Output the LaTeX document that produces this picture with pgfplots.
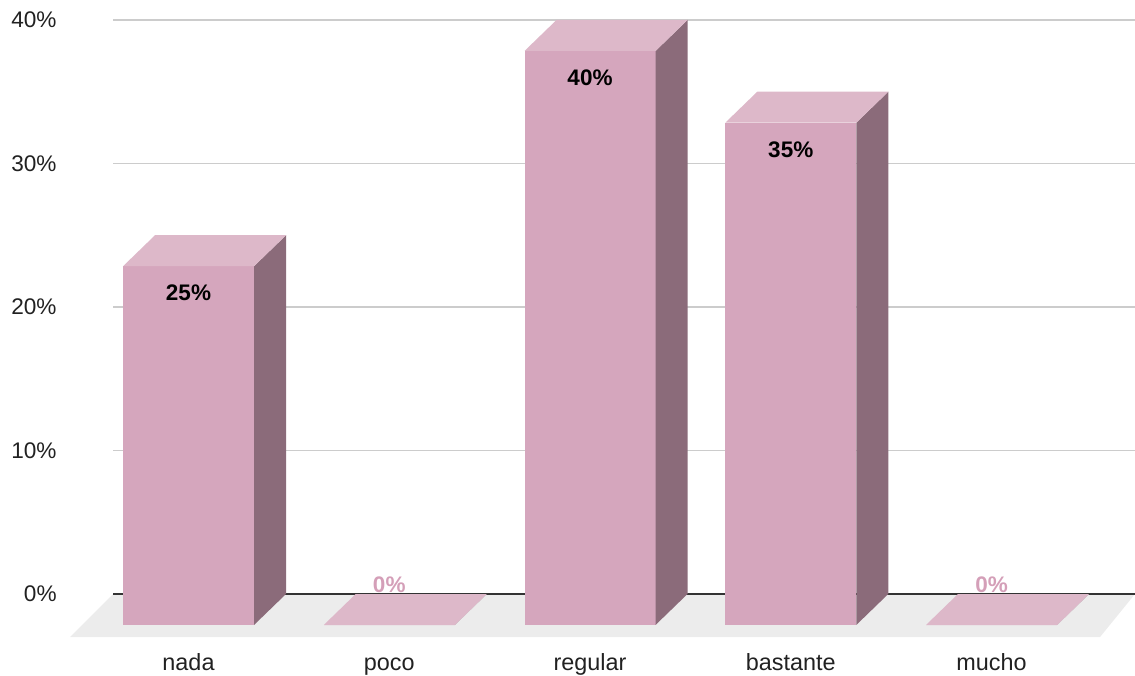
\documentclass[border=0pt]{standalone}
\usepackage{pgfplots}
\pgfplotsset{compat=1.18}
\usepackage{fontspec}
\setmainfont{Liberation Sans}

\definecolor{barfront}{HTML}{D5A6BD}
\definecolor{bartop}{HTML}{DDB8C9}
\definecolor{barside}{HTML}{8B6B7A}
\definecolor{floorgray}{HTML}{ECECEC}
\definecolor{gridgray}{HTML}{CCCCCC}
\definecolor{zeroline}{HTML}{333333}
\definecolor{labelpink}{HTML}{D49FB8}

% box geometry: x in category units, y in percent
\def\hw{0.3263}  % half width of the front face
\def\dx{0.1594}  % depth, horizontal
\def\dy{2.16}    % depth, vertical

% one 3-D bar at category #1 with value #2
\newcommand{\drawbar}[2]{%
  \pgfmathsetmacro\xl{#1-\hw}%
  \pgfmathsetmacro\xr{#1+\hw}%
  \pgfmathsetmacro\xlb{#1-\hw+\dx}%
  \pgfmathsetmacro\xrb{#1+\hw+\dx}%
  \pgfmathsetmacro\yf{#2-\dy}%
  \edef\tmp{%
    \noexpand\addplot[draw=none, fill=barfront]
      coordinates {(\xl,-\dy) (\xr,-\dy) (\xr,\yf) (\xl,\yf)};
    \noexpand\addplot[draw=none, fill=barside]
      coordinates {(\xr,-\dy) (\xrb,0) (\xrb,#2) (\xr,\yf)};
    \noexpand\addplot[draw=none, fill=bartop]
      coordinates {(\xl,\yf) (\xr,\yf) (\xrb,#2) (\xlb,#2)};
  }\tmp
}

\tikzset{
  vlab/.style={anchor=base, inner sep=0pt,
    font=\fontsize{11.25}{13}\selectfont\bfseries},
}

% value printed on the front face, near its top
\newcommand{\barlabel}[2]{%
  \node[vlab, text=black, yshift=-32.8pt] at (axis cs:#1,#2) {#2\%};
}

% value of an empty bar, in pink sitting on the base line
\newcommand{\zerolabel}[1]{%
  \node[vlab, text=labelpink, yshift=0.6pt] at (axis cs:#1,0) {0\%};
}

\begin{document}
\begin{tikzpicture}
\path[use as bounding box] (0,0) rectangle (567.5pt,337.5pt);
\begin{axis}[
  at={(56.5pt,40.5pt)}, anchor=south west,
  scale only axis, width=511pt, height=287pt,
  xmin=-0.3761, xmax=4.7148, ymin=0, ymax=40,
  clip=false,
  axis line style={draw=none},
  major tick length=0pt,
  ytick={0,10,20,30,40},
  yticklabels={0\%,10\%,20\%,30\%,40\%},
  xtick={0,1,2,3,4},
  xticklabels={nada,poco,regular,bastante,mucho},
  ymajorgrids,
  grid style={gridgray, line width=0.75pt},
  tick label style={text=black!87},
  yticklabel style={font=\fontsize{11.3}{13}\selectfont,
    anchor=east, inner sep=0pt, xshift=-28pt},
  xticklabel style={font=\fontsize{11.7}{13}\selectfont,
    anchor=base, inner sep=0pt, yshift=-38pt},
]
% floor
\addplot[draw=none, fill=floorgray]
  coordinates {(-0.3761,0) (4.7148,0) (4.5405,-3.0) (-0.5903,-3.0)};
% base line
\addplot[zeroline, line width=0.75pt]
  coordinates {(-0.3761,0) (4.7148,0)};

\drawbar{0}{25}
\drawbar{1}{0}
\drawbar{2}{40}
\drawbar{3}{35}
\drawbar{4}{0}

\barlabel{0}{25}
\zerolabel{1}
\barlabel{2}{40}
\barlabel{3}{35}
\zerolabel{4}
\end{axis}
\end{tikzpicture}
\end{document}
